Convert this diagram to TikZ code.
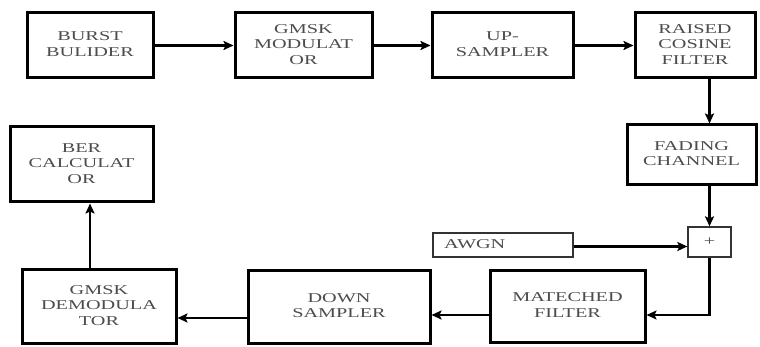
\documentclass[tikz,border=0pt]{standalone}
\usepackage{fontspec}
\setmainfont{Liberation Serif}
\usetikzlibrary{arrows.meta,calc}
\newcommand{\lbl}[1]{\scalebox{1.5}[1]{\fontsize{13.5}{15.5}\selectfont\begin{tabular}{@{}c@{}}#1\end{tabular}}}
\tikzset{
  blk/.style={draw=black, line width=3pt, fill=white, inner sep=0pt, text=black!70},
  thinblk/.style={draw=black!80, line width=1.3pt, fill=white, inner sep=0pt, text=black!70},
  arr/.style={line width=2.3pt, -{Stealth[length=10pt,width=9pt,inset=2pt]}},
}
\begin{document}
\begin{tikzpicture}[x=1pt,y=-1pt]
\useasboundingbox (0,0) rectangle (760,347);
\node[blk, minimum width=126pt, minimum height=65pt] (burst) at (90,45.5) {\lbl{BURST\\BULIDER}};
\node[blk, minimum width=137pt, minimum height=65pt] (gmsk) at (303.5,45.5) {\lbl{GMSK\\MODULAT\\OR}};
\node[blk, minimum width=141pt, minimum height=65pt] (up) at (502.5,45.5) {\lbl{UP-\\SAMPLER}};
\node[blk, minimum width=120pt, minimum height=65pt] (rc) at (695,45.5) {\lbl{RAISED\\COSINE\\FILTER}};
\node[blk, minimum width=129pt, minimum height=60pt] (fading) at (691.5,155) {\lbl{FADING\\CHANNEL}};
\node[thinblk, minimum width=43pt, minimum height=30pt] (plus) at (709.5,242) {\lbl{+}};
\node[thinblk, minimum width=140pt, minimum height=24pt, text width=122pt, align=left] (awgn) at (503,245) {\hspace*{2pt}\lbl{AWGN}};
\node[blk, minimum width=155pt, minimum height=72pt] (matched) at (567.5,306.5) {\lbl{MATECHED\\FILTER}};
\node[blk, minimum width=182pt, minimum height=73pt] (down) at (339,307) {\lbl{DOWN\\SAMPLER}};
\node[blk, minimum width=154pt, minimum height=73pt] (demod) at (99,306.5) {\lbl{GMSK\\DEMODULA\\TOR}};
\node[blk, minimum width=143pt, minimum height=75pt] (ber) at (81.5,164.5) {\lbl{BER\\CALCULAT\\OR}};

\draw[arr] (burst.east) -- (burst.east -| gmsk.west);
\draw[arr] (gmsk.east) -- (gmsk.east -| up.west);
\draw[arr] (up.east) -- (up.east -| rc.west);
\draw[arr] (rc.south -| plus.north) -- (fading.north -| plus.north);
\draw[arr] (fading.south -| plus.north) -- (plus.north);
\draw[arr] ([yshift=-1.5pt]awgn.east) -- ([yshift=-1.5pt]awgn.east -| plus.west);
\draw[arr] (plus.south) |- ([yshift=-8.5pt]matched.east);
\draw[arr] ([yshift=-8.5pt]matched.west) -- ([yshift=-8.5pt]matched.west -| down.east);
\draw[arr] ([yshift=-11pt]down.west) -- ([yshift=-11pt]down.west -| demod.east);
\draw[arr] ([xshift=-9pt]demod.north) -- ([xshift=-9pt]demod.north |- ber.south);
\end{tikzpicture}
\end{document}
